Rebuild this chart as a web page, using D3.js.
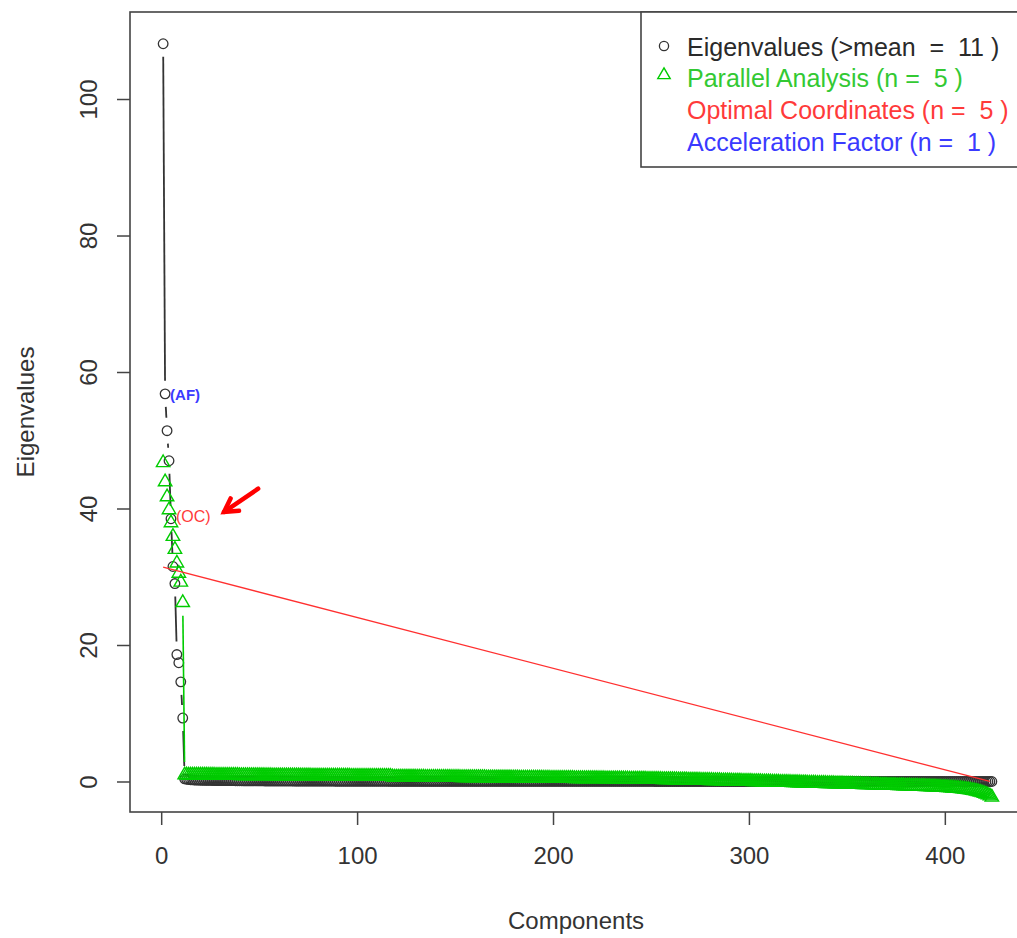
<!DOCTYPE html>
<html><head><meta charset="utf-8">
<script src="https://cdn.jsdelivr.net/npm/d3@7"></script>
<style>body{margin:0;background:#fff;} svg{display:block;font-family:"Liberation Sans",Arial,sans-serif;} .pre{white-space:pre;}</style>
</head><body><svg id="c" width="1017" height="938"></svg>
<script>
// ---- data ----
const eigenTop = [108.1, 56.8, 51.4, 47.0, 38.5, 31.5, 29.0, 18.6, 17.4, 14.6, 9.3];
const eigenTail = [
0.38,0.33,0.29,0.26,0.24,0.22,0.21,0.20,0.19,0.18,0.17,0.17,0.16,0.16,0.15,0.15,0.14,0.14,0.14,0.13,
0.13,0.13,0.12,0.12,0.12,0.12,0.11,0.11,0.11,0.11,0.10,0.10,0.10,0.10,0.10,0.09,0.09,0.09,0.09,0.09,
0.09,0.08,0.08,0.08,0.08,0.08,0.08,0.08,0.07,0.07,0.07,0.07,0.07,0.07,0.07,0.07,0.06,0.06,0.06,0.06,
0.06,0.06,0.06,0.06,0.06,0.06,0.05,0.05,0.05,0.05,0.05,0.05,0.05,0.05,0.05,0.05,0.05,0.04,0.04,0.04,
0.04,0.04,0.04,0.04,0.04,0.04,0.04,0.04,0.04,0.04,0.04,0.04,0.04,0.04,0.04,0.04,0.04,0.04,0.04,0.04,
0.04,0.04,0.04,0.04,0.04,0.03,0.03,0.03,0.03,0.03,0.03,0.03,0.03,0.03,0.03,0.03,0.03,0.03,0.03,0.03,
0.03,0.03,0.03,0.03,0.03,0.03,0.03,0.03,0.03,0.03,0.03,0.03,0.03,0.03,0.03,0.03,0.03,0.03,0.03,0.03,
0.03,0.03,0.03,0.03,0.03,0.03,0.03,0.03,0.03,0.03,0.02,0.02,0.02,0.02,0.02,0.02,0.02,0.02,0.02,0.02,
0.02,0.02,0.02,0.02,0.02,0.02,0.02,0.02,0.02,0.02,0.02,0.02,0.02,0.02,0.02,0.02,0.02,0.02,0.02,0.02,
0.02,0.02,0.02,0.02,0.02,0.02,0.02,0.02,0.02,0.02,0.02,0.02,0.02,0.02,0.02,0.02,0.02,0.02,0.02,0.02,
0.02,0.02,0.02,0.02,0.02,0.02,0.02,0.02,0.02,0.02,0.02,0.02,0.02,0.02,0.02,0.02,0.02,0.02,0.02,0.02,
0.02,0.02,0.02,0.02,0.02,0.02,0.02,0.02,0.02,0.02,0.02,0.02,0.02,0.02,0.02,0.02,0.02,0.02,0.02,0.02,
0.01,0.01,0.01,0.01,0.01,0.01,0.01,0.01,0.01,0.01,0.01,0.01,0.01,0.01,0.01,0.01,0.01,0.01,0.01,0.01,
0.01,0.01,0.01,0.01,0.01,0.01,0.01,0.01,0.01,0.01,0.01,0.01,0.01,0.01,0.01,0.01,0.01,0.01,0.01,0.01,
0.01,0.01,0.01,0.01,0.01,0.01,0.01,0.01,0.01,0.01,0.01,0.01,0.01,0.01,0.01,0.01,0.01,0.01,0.01,0.01,
0.01,0.01,0.01,0.01,0.01,0.01,0.01,0.01,0.01,0.01,0.01,0.01,0.01,0.01,0.01,0.01,0.01,0.01,0.01,0.01,
0.01,0.01,0.01,0.01,0.01,0.01,0.01,0.01,0.01,0.01,0.01,0.01,0.01,0.01,0.01,0.01,0.01,0.01,0.01,0.01,
0.01,0.01,0.01,0.01,0.01,0.01,0.01,0.01,0.01,0.01,0.01,0.01,0.01,0.01,0.01,0.01,0.01,0.01,0.01,0.01,
0.00,0.00,0.00,0.00,0.00,0.00,0.00,0.00,0.00,0.00,0.00,0.00,0.00,0.00,0.00,0.00,0.00,0.00,0.00,0.00,
0.00,0.00,0.00,0.00,0.00,0.00,0.00,0.00,0.00,0.00,0.00,0.00,0.00,0.00,0.00,0.00,0.00,0.00,0.00,0.00,
0.00,0.00,0.00,0.00,0.00,0.00,0.00,0.00,0.00,0.00,0.00,0.00,0.00
];
const parallelTop = [46.7, 43.9, 41.7, 39.8, 37.9, 35.9, 34.0, 32.0, 30.5, 29.2, 26.2];
const parallelTail = [
0.95,0.95,0.94,0.94,0.94,0.93,0.93,0.93,0.92,0.92,0.92,0.92,0.91,0.91,0.91,0.91,0.90,0.90,0.90,0.90,
0.89,0.89,0.89,0.89,0.88,0.88,0.88,0.88,0.87,0.87,0.87,0.87,0.86,0.86,0.86,0.86,0.85,0.85,0.85,0.85,
0.85,0.84,0.84,0.84,0.84,0.83,0.83,0.83,0.83,0.82,0.82,0.82,0.82,0.82,0.81,0.81,0.81,0.81,0.81,0.80,
0.80,0.80,0.80,0.80,0.80,0.79,0.79,0.79,0.79,0.79,0.79,0.78,0.78,0.78,0.78,0.78,0.78,0.78,0.77,0.77,
0.77,0.77,0.77,0.77,0.77,0.76,0.76,0.76,0.76,0.76,0.76,0.76,0.75,0.75,0.75,0.75,0.75,0.75,0.75,0.74,
0.74,0.74,0.74,0.74,0.74,0.74,0.66,0.65,0.65,0.65,0.64,0.64,0.64,0.64,0.63,0.63,0.63,0.63,0.62,0.62,
0.62,0.62,0.62,0.61,0.61,0.61,0.61,0.60,0.60,0.60,0.60,0.60,0.59,0.59,0.59,0.59,0.58,0.58,0.58,0.58,
0.58,0.57,0.57,0.57,0.57,0.56,0.56,0.56,0.56,0.56,0.55,0.55,0.55,0.55,0.54,0.54,0.54,0.54,0.54,0.53,
0.53,0.53,0.53,0.52,0.52,0.52,0.52,0.51,0.51,0.51,0.51,0.50,0.50,0.50,0.50,0.49,0.49,0.49,0.49,0.48,
0.48,0.48,0.48,0.47,0.47,0.47,0.47,0.46,0.46,0.46,0.46,0.45,0.45,0.45,0.45,0.44,0.44,0.44,0.44,0.43,
0.43,0.43,0.43,0.42,0.42,0.42,0.42,0.41,0.41,0.41,0.41,0.40,0.40,0.40,0.40,0.39,0.39,0.39,0.38,0.38,
0.38,0.37,0.37,0.37,0.36,0.36,0.36,0.35,0.35,0.35,0.34,0.34,0.34,0.33,0.33,0.33,0.32,0.32,0.31,0.31,
0.30,0.30,0.29,0.29,0.28,0.28,0.27,0.27,0.26,0.26,0.25,0.25,0.24,0.24,0.23,0.23,0.22,0.21,0.21,0.20,
0.20,0.19,0.18,0.18,0.17,0.16,0.16,0.15,0.14,0.14,0.13,0.12,0.12,0.11,0.10,0.10,0.09,0.08,0.07,0.07,
0.06,0.05,0.05,0.04,0.03,0.02,0.02,0.01,0.00,0.00,-0.01,-0.02,-0.03,-0.03,-0.04,-0.05,-0.06,-0.06,-0.07,-0.08,
-0.09,-0.09,-0.10,-0.11,-0.12,-0.12,-0.13,-0.14,-0.15,-0.15,-0.16,-0.17,-0.18,-0.19,-0.19,-0.20,-0.21,-0.22,-0.23,-0.23,
-0.24,-0.25,-0.26,-0.27,-0.27,-0.28,-0.29,-0.30,-0.31,-0.31,-0.32,-0.33,-0.34,-0.35,-0.35,-0.36,-0.37,-0.38,-0.39,-0.40,
-0.40,-0.41,-0.42,-0.43,-0.44,-0.44,-0.45,-0.46,-0.47,-0.48,-0.48,-0.49,-0.50,-0.51,-0.52,-0.53,-0.53,-0.54,-0.55,-0.56,
-0.57,-0.58,-0.58,-0.59,-0.60,-0.61,-0.62,-0.63,-0.64,-0.65,-0.66,-0.67,-0.68,-0.69,-0.70,-0.71,-0.72,-0.73,-0.74,-0.75,
-0.76,-0.78,-0.79,-0.80,-0.82,-0.83,-0.85,-0.86,-0.88,-0.90,-0.92,-0.94,-0.96,-0.98,-1.00,-1.03,-1.06,-1.09,-1.12,-1.16,
-1.20,-1.25,-1.30,-1.36,-1.42,-1.49,-1.57,-1.65,-1.75,-1.86,-1.98,-2.12,-2.30
];
const ocLineX = [1, 423];
const ocLineY = [31.4, 0.0];
const arrowX = [49.5, 32.1];
const arrowY = [42.9, 39.5];
const xTicks = [0, 100, 200, 300, 400];
const yTicks = [0, 20, 40, 60, 80, 100];
const legendLabels = ["Eigenvalues (>mean  =  11 )", "Parallel Analysis (n =  5 )", "Optimal Coordinates (n =  5 )", "Acceleration Factor (n =  1 )"];
const legendColors = ["#2a2a2a", "#33c933", "#ff3a3a", "#3a3aff"];
const xLabel = "Components", yLabel = "Eigenvalues";

// ---- build ----
const eigen = eigenTop.concat(eigenTail);
const parallel = parallelTop.concat(parallelTail);
const comps = eigen.map((d, i) => i + 1);

const svg = d3.select("#c");
const box = {l: 130, t: 12, r: 1025, b: 812};
const x = d3.scaleLinear().domain([-15.92, 440.92]).range([box.l, box.r]);
const y = d3.scaleLinear().domain([-4.47, 112.75]).range([box.b, box.t]);
const FS = 24, LFS = 25;

svg.append("defs").append("clipPath").attr("id", "pc")
  .append("rect").attr("x", box.l).attr("y", box.t).attr("width", box.r - box.l).attr("height", box.b - box.t);
const plot = svg.append("g").attr("clip-path", "url(#pc)");

function typeB(g, xs, ys, color, width, gap) {
  const pts = xs.map((v, i) => [x(v), y(ys[i])]);
  for (let i = 0; i < pts.length - 1; i++) {
    const [x0, y0] = pts[i], [x1, y1] = pts[i + 1];
    const dx = x1 - x0, dy = y1 - y0, d = Math.hypot(dx, dy);
    if (d <= 2 * gap) continue;
    const ux = dx / d, uy = dy / d;
    g.append("line").attr("x1", x0 + ux * gap).attr("y1", y0 + uy * gap)
      .attr("x2", x1 - ux * gap).attr("y2", y1 - uy * gap)
      .attr("stroke", color).attr("stroke-width", width);
  }
}
const triPath = (s) => `M0,${-1.555*s}L${1.347*s},${0.778*s}L${-1.347*s},${0.778*s}Z`;

// eigenvalues
const gE = plot.append("g");
typeB(gE, comps, eigen, "#333", 1.8, 13);
gE.selectAll("circle").data(comps).join("circle")
  .attr("cx", d => x(d)).attr("cy", (d, i) => y(eigen[i])).attr("r", 4.8)
  .attr("fill", "none").attr("stroke", "#333").attr("stroke-width", 1.3);

// parallel analysis
const gP = plot.append("g");
typeB(gP, comps, parallel, "#00cc00", 1.6, 13);
gP.selectAll("path").data(comps).join("path")
  .attr("transform", (d, i) => `translate(${x(d)},${y(parallel[i])})`)
  .attr("d", triPath(5)).attr("fill", "none").attr("stroke", "#00cc00").attr("stroke-width", 1.4);

// optimal coordinates line
plot.append("line").attr("x1", x(ocLineX[0])).attr("y1", y(ocLineY[0]))
  .attr("x2", x(ocLineX[1])).attr("y2", y(ocLineY[1]))
  .attr("stroke", "#ff3030").attr("stroke-width", 1.3);

// labels
svg.append("text").attr("x", x(2) + 5).attr("y", y(eigen[1]) + 1).attr("dy", "0.35em")
  .attr("fill", "#3a3aff").attr("font-size", 15).attr("font-weight", "bold").text("(AF)");
svg.append("text").attr("x", x(5) + 5).attr("y", y(eigen[4]) - 2).attr("dy", "0.35em")
  .attr("fill", "#ff3a3a").attr("font-size", 16).text("(OC)");

// arrow
{
  const x0 = x(arrowX[0]), y0 = y(arrowY[0]), x1 = x(arrowX[1]), y1 = y(arrowY[1]);
  const ang = Math.atan2(y1 - y0, x1 - x0), L = 15, a = Math.PI / 6;
  const g = svg.append("g").attr("stroke", "#ff0000").attr("stroke-width", 4.5).attr("stroke-linecap", "round").attr("fill", "none");
  g.append("line").attr("x1", x0).attr("y1", y0).attr("x2", x1).attr("y2", y1);
  g.append("path").attr("d", `M${x1 - L*Math.cos(ang - a)},${y1 - L*Math.sin(ang - a)}L${x1},${y1}L${x1 - L*Math.cos(ang + a)},${y1 - L*Math.sin(ang + a)}`)
    .attr("stroke-linejoin", "miter");
}

// box
svg.append("rect").attr("x", box.l).attr("y", box.t).attr("width", box.r - box.l).attr("height", box.b - box.t)
  .attr("fill", "none").attr("stroke", "#444").attr("stroke-width", 1.6);

// axes
const xAxis = d3.axisBottom(x).tickValues(xTicks).tickSize(13).tickPadding(22).tickFormat(d3.format("d"));
const gx = svg.append("g").attr("transform", `translate(0,${box.b})`).call(xAxis);
gx.select(".domain").remove();
gx.selectAll("line").attr("stroke", "#444").attr("stroke-width", 1.5);
gx.selectAll("text").attr("font-size", FS).attr("fill", "#333").attr("font-family", "Liberation Sans, Arial, sans-serif");

const yAxis = d3.axisLeft(y).tickValues(yTicks).tickSize(13).tickPadding(0).tickFormat(d3.format("d"));
const gy = svg.append("g").attr("transform", `translate(${box.l},0)`).call(yAxis);
gy.select(".domain").remove();
gy.selectAll("line").attr("stroke", "#444").attr("stroke-width", 1.5);
gy.selectAll("text").attr("font-size", FS).attr("fill", "#333").attr("font-family", "Liberation Sans, Arial, sans-serif")
  .attr("x", null).attr("dy", null).attr("text-anchor", "middle")
  .attr("transform", "translate(-33,0) rotate(-90)").attr("y", 0);

svg.append("text").attr("x", (x(0) + x(400)) / 2 + 23).attr("y", 929).attr("text-anchor", "middle")
  .attr("font-size", FS).attr("fill", "#333").text(xLabel);
svg.append("text").attr("transform", `translate(34,${(box.t + box.b) / 2}) rotate(-90)`).attr("text-anchor", "middle")
  .attr("font-size", FS).attr("fill", "#333").text(yLabel);

// legend
const lg = svg.append("g");
lg.append("rect").attr("x", 641).attr("y", box.t).attr("width", box.r - 641).attr("height", 155)
  .attr("fill", "#fff").attr("stroke", "#444").attr("stroke-width", 1.6);
const rowY = [47, 78, 110, 142];
lg.selectAll("text").data(legendLabels).join("text")
  .attr("class", "pre").attr("xml:space", "preserve")
  .attr("x", 687).attr("y", (d, i) => rowY[i]).attr("dy", "0.35em")
  .attr("font-size", LFS).attr("fill", (d, i) => legendColors[i]).text(d => d);
lg.append("circle").attr("cx", 664).attr("cy", 46).attr("r", 4.6).attr("fill", "none").attr("stroke", "#333").attr("stroke-width", 1.3);
lg.append("path").attr("transform", "translate(664,75)").attr("d", triPath(4.6)).attr("fill", "none").attr("stroke", "#00cc00").attr("stroke-width", 1.4);
</script></body></html>
